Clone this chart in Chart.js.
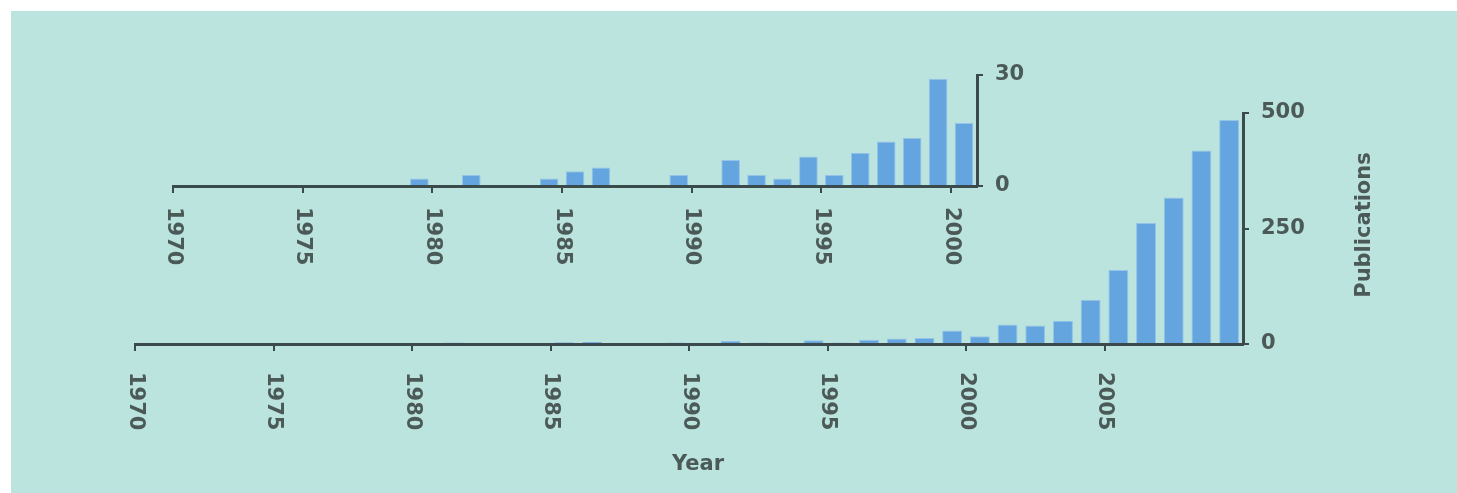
<!DOCTYPE html>
<html>
<head>
<meta charset="utf-8">
<script src="https://cdn.jsdelivr.net/npm/chart.js@4"></script>
<style>
  html, body { margin: 0; padding: 0; background: #ffffff; width: 1457px; height: 493px; overflow: hidden; }
  #bg { position: absolute; left: 11px; top: 11px; right: 0; bottom: 0; background: #bce4df; }
  canvas { position: absolute; left: 0; top: 0; }
</style>
</head>
<body>
<div id="bg"></div>
<canvas id="main" width="1457" height="493"></canvas>
<canvas id="inset" width="1457" height="493"></canvas>
<script>
// ---- data ----
const years = [1970, 1971, 1972, 1973, 1974, 1975, 1976, 1977, 1978, 1979,
               1980, 1981, 1982, 1983, 1984, 1985, 1986, 1987, 1988, 1989,
               1990, 1991, 1992, 1993, 1994, 1995, 1996, 1997, 1998, 1999,
               2000, 2001, 2002, 2003, 2004, 2005, 2006, 2007, 2008, 2009];
const publications = [0, 0, 0, 0, 0, 0, 0, 0, 0, 2,
                      0, 3, 0, 0, 2, 4, 5, 0, 0, 3,
                      0, 7, 3, 2, 8, 3, 9, 12, 13, 29,
                      17, 42, 40, 50, 96, 160, 262, 317, 419, 485];
const insetLastYear = 2000;
const mainXTicks = [1970, 1975, 1980, 1985, 1990, 1995, 2000, 2005];
const insetXTicks = [1970, 1975, 1980, 1985, 1990, 1995, 2000];
const mainYTicks = [0, 250, 500];
const insetYTicks = [0, 30];
const xTitle = 'Year';
const yTitle = 'Publications';

// ---- style ----
const AXIS = '#3b4a4a';
const TEXT = '#4b5957';
const FONT_FAMILY = "'DejaVu Sans', 'Liberation Sans', sans-serif";
const FONT_SIZE = 21;
const BAR_FILL = 'rgb(100,165,224)';
const BAR_EDGE = 'rgb(150,196,232)';

const textPlugin = {
  id: 'rotText',
  afterDraw(chart, args, opts) {
    const ctx = chart.ctx;
    const xs = chart.scales.x;
    ctx.save();
    ctx.font = 'bold ' + FONT_SIZE + 'px ' + FONT_FAMILY;
    ctx.fillStyle = TEXT;
    ctx.textAlign = 'left';
    ctx.textBaseline = 'middle';
    xs.ticks.forEach(t => {
      const px = xs.getPixelForValue(t.value);
      ctx.save();
      ctx.translate(px, xs.top + opts.labelOffset);
      ctx.rotate(Math.PI / 2);
      ctx.fillText(String(t.value), 0, 0);
      ctx.restore();
    });
    if (opts.xTitle) {
      ctx.textAlign = 'center';
      ctx.fillText(opts.xTitle.text, opts.xTitle.x, opts.xTitle.y);
    }
    if (opts.yTitle) {
      ctx.save();
      ctx.translate(opts.yTitle.x, opts.yTitle.y);
      ctx.rotate(-Math.PI / 2);
      ctx.textAlign = 'center';
      ctx.fillText(opts.yTitle.text, 0, 0);
      ctx.restore();
    }
    ctx.restore();
  }
};

function makeChart(id, cfg) {
  const pts = [];
  years.forEach((y, i) => {
    if (y <= cfg.lastYear) pts.push({ x: y + 0.5, y: publications[i] });
  });
  return new Chart(document.getElementById(id), {
    type: 'bar',
    data: {
      datasets: [{
        data: pts,
        backgroundColor: BAR_FILL,
        borderColor: BAR_EDGE,
        borderWidth: 1,
        categoryPercentage: 0.72,
        barPercentage: 1
      }]
    },
    plugins: [textPlugin],
    options: {
      responsive: false,
      animation: false,
      devicePixelRatio: 1,
      layout: { padding: { left: cfg.left, top: cfg.top, right: 0, bottom: 0 } },
      plugins: {
        legend: { display: false },
        tooltip: { enabled: false },
        rotText: { labelOffset: cfg.labelOffset, xTitle: cfg.xTitle, yTitle: cfg.yTitle }
      },
      scales: {
        x: {
          type: 'linear',
          position: 'bottom',
          min: cfg.xMin, max: cfg.xMax,
          offset: false,
          afterBuildTicks: s => { s.ticks = cfg.xTicks.map(v => ({ value: v })); },
          afterFit: s => { s.height = cfg.xAxisHeight; },
          ticks: { display: false },
          grid: { offset: false, drawOnChartArea: false, drawTicks: true, tickLength: 7, color: AXIS, lineWidth: 2 },
          border: { display: true, color: AXIS, width: 3 }
        },
        y: {
          type: 'linear',
          position: 'right',
          min: 0, max: cfg.yMax,
          afterBuildTicks: s => { s.ticks = cfg.yTicks.map(v => ({ value: v })); },
          afterFit: s => { s.width = cfg.yAxisWidth; },
          ticks: { color: TEXT, padding: 12, font: { family: FONT_FAMILY, size: FONT_SIZE, weight: 'bold' } },
          grid: { drawOnChartArea: false, drawTicks: true, tickLength: 6, color: AXIS, lineWidth: 2 },
          border: { display: true, color: AXIS, width: 3 }
        }
      }
    }
  });
}

makeChart('main', {
  lastYear: 2009, xMin: 1970, xMax: 2010, yMax: 500,
  xTicks: mainXTicks, yTicks: mainYTicks,
  left: 135, top: 113, xAxisHeight: 493 - 344, yAxisWidth: 1457 - 1243,
  labelOffset: 28,
  xTitle: { text: xTitle, x: 698, y: 465 },
  yTitle: { text: yTitle, x: 1365, y: 225 }
});

makeChart('inset', {
  lastYear: insetLastYear, xMin: 1970, xMax: 2001, yMax: 30,
  xTicks: insetXTicks, yTicks: insetYTicks,
  left: 173, top: 75, xAxisHeight: 493 - 186, yAxisWidth: 1457 - 977,
  labelOffset: 21
});
</script>
</body>
</html>
